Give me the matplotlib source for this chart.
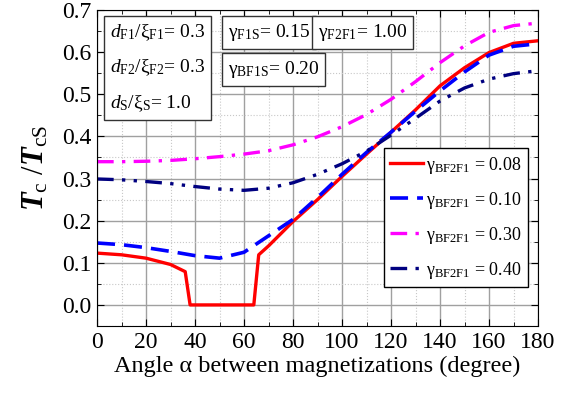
import numpy as np
import matplotlib
matplotlib.use("Agg")
import matplotlib.pyplot as plt
from matplotlib.ticker import MultipleLocator

plt.rcParams['font.family'] = 'Liberation Serif'
plt.rcParams['mathtext.fontset'] = 'custom'
plt.rcParams['mathtext.rm'] = 'Liberation Serif'
plt.rcParams['mathtext.it'] = 'Liberation Serif:italic'
plt.rcParams['mathtext.bf'] = 'Liberation Serif:italic:bold'

# gamma_BF2F1 = 0.08 (Tc drops to zero between ~38 and ~64 deg)
ang_008 = [0, 10, 20, 30, 36, 38, 40, 50, 60, 64, 66, 70, 80, 90, 100,
           110, 120, 130, 140, 150, 160, 170, 180]
tc_008 = [0.123, 0.119, 0.111, 0.096, 0.079, 0.0, 0.0, 0.0, 0.0, 0.0, 0.119,
          0.14, 0.198, 0.25, 0.305, 0.358, 0.41, 0.463, 0.52, 0.563, 0.599,
          0.621, 0.627]

ang = [0, 10, 20, 30, 40, 50, 60, 70, 80, 90, 100, 110, 120, 130, 140,
       150, 160, 170, 180]
tc_010 = [0.147, 0.143, 0.136, 0.127, 0.117, 0.111, 0.125, 0.164, 0.203,
          0.255, 0.31, 0.362, 0.41, 0.46, 0.508, 0.553, 0.593, 0.614, 0.62]
tc_030 = [0.340, 0.340, 0.341, 0.343, 0.347, 0.352, 0.358, 0.366, 0.38,
          0.399, 0.423, 0.452, 0.488, 0.53, 0.575, 0.615, 0.647, 0.663, 0.669]
tc_040 = [0.299, 0.297, 0.293, 0.288, 0.281, 0.275, 0.272, 0.277, 0.29,
          0.31, 0.335, 0.365, 0.403, 0.443, 0.484, 0.515, 0.536, 0.549, 0.556]

labels = [r"γ$_{\mathrm{BF2F1}}$ = 0.08", r"γ$_{\mathrm{BF2F1}}$ = 0.10",
          r"γ$_{\mathrm{BF2F1}}$ = 0.30", r"γ$_{\mathrm{BF2F1}}$ = 0.40"]

fig = plt.figure(figsize=(5.75, 3.93), dpi=100)
ax = fig.add_axes([0.1687, 0.1705, 0.767, 0.804])

ax.plot(ang_008, tc_008, color='#ff0000', lw=2.4, label=labels[0])
ax.plot(ang, tc_010, color='#0000ff', lw=2.6, dashes=(5, 2.5), label=labels[1])
ax.plot(ang, tc_030, color='#ff00ff', lw=2.4, dashes=(5, 2.5, 1, 2.5), label=labels[2])
ax.plot(ang, tc_040, color='#000080', lw=2.4, dashes=(5, 2.5, 1, 2.5, 1, 2.5), label=labels[3])

ax.set_xlim(0, 180)
ax.set_ylim(-0.05, 0.7)
ax.xaxis.set_major_locator(MultipleLocator(20))
ax.xaxis.set_minor_locator(MultipleLocator(10))
ax.yaxis.set_major_locator(MultipleLocator(0.1))
ax.yaxis.set_minor_locator(MultipleLocator(0.05))
ax.yaxis.set_major_formatter(matplotlib.ticker.FormatStrFormatter('%.1f'))
ax.tick_params(which='both', direction='in', top=True, right=True, labelsize=17)
ax.tick_params(which='major', length=5, pad=4)
ax.tick_params(which='minor', length=3)
ax.grid(which='major', color='#a0a0a0', lw=1.0)
ax.grid(which='minor', color='#c8c8c8', lw=0.8, ls=':')
ax.set_axisbelow(True)

ax.set_xlabel("Angle α between magnetizations (degree)", fontsize=17.5, labelpad=2)
ax.set_ylabel(r"$\mathbf{T}_{\mathrm{c}}$ /$\mathbf{T}_{\mathrm{cS}}$", fontsize=22, labelpad=8)

ax.legend(loc='lower right', bbox_to_anchor=(0.977, 0.123), fontsize=13,
          handlelength=1.85, handletextpad=0.15, labelspacing=0.78,
          borderpad=0.35, borderaxespad=0, fancybox=False, edgecolor='black',
          framealpha=1)

bx = dict(boxstyle='square,pad=0.3', fc='white', ec='#333333', lw=1)
fig.text(110 / 575, 1 - 22 / 393,
         "$\\mathit{d}_{\\mathrm{F1}}$/ξ$_{\\mathrm{F1}}$= 0.3\n"
         "$\\mathit{d}_{\\mathrm{F2}}$/ξ$_{\\mathrm{F2}}$= 0.3\n"
         "$\\mathit{d}_{\\mathrm{S}}$/ξ$_{\\mathrm{S}}$= 1.0",
         fontsize=14, va='top', ha='left', linespacing=2.0, bbox=bx)
fig.text(228 / 575, 1 - 22 / 393, r"γ$_{\mathrm{F1S}}$= 0.15",
         fontsize=14, va='top', ha='left', bbox=bx)
fig.text(318 / 575, 1 - 22 / 393, r"γ$_{\mathrm{F2F1}}$= 1.00",
         fontsize=14, va='top', ha='left', bbox=bx)
fig.text(228 / 575, 1 - 59 / 393, r"γ$_{\mathrm{BF1S}}$= 0.20",
         fontsize=14, va='top', ha='left', bbox=bx)

fig.savefig("out.png", dpi=100)
